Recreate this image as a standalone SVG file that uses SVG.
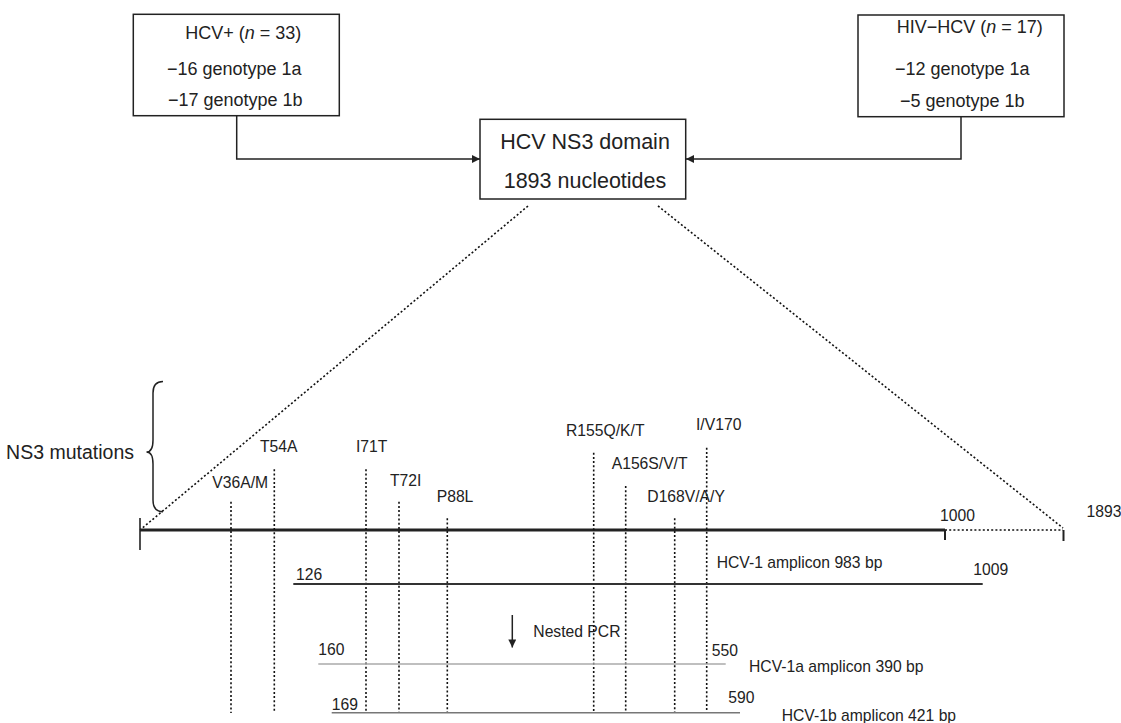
<svg xmlns="http://www.w3.org/2000/svg" width="1121" height="723" viewBox="0 0 1121 723">
<style>
text{font-family:"Liberation Sans",Arial,Helvetica,sans-serif;fill:#222}
.bx{fill:#fff;stroke:#222;stroke-width:1.5}
.bt{font-size:18px}
.ct{font-size:21.5px}
.lb{font-size:15.7px}
.dot{stroke:#111;stroke-width:1.6;stroke-dasharray:2 2.2;fill:none}
.conn{stroke:#222;stroke-width:1.5;fill:none}
</style>
<defs>
<marker id="ah" viewBox="0 0 10 10" refX="10" refY="5" markerWidth="11" markerHeight="8" markerUnits="userSpaceOnUse" orient="auto">
<path d="M0,0 L10,5 L0,10 Z" fill="#222"/>
</marker>
</defs>
<rect width="1121" height="723" fill="#fff"/>

<g id="connectors">
<path class="conn" d="M236.7,115.7 V159 H480" marker-end="url(#ah)"/>
<path class="conn" d="M961,116.7 V159 H686" marker-end="url(#ah)"/>
<line class="dot" x1="528" y1="206" x2="140" y2="530"/>
<line class="dot" x1="658" y1="206" x2="1063" y2="528"/>
<line class="conn" x1="512.3" y1="615" x2="512.3" y2="647.5" marker-end="url(#ah)"/>
</g>

<g id="hcv-box">
<rect class="bx" x="133.3" y="14.3" width="206" height="101.4"/>
<text class="bt" x="185.3" y="38.5">HCV+ (<tspan font-style="italic">n</tspan> = 33)</text>
<text class="bt" x="167" y="75">−16 genotype 1a</text>
<text class="bt" x="168" y="105.5">−17 genotype 1b</text>
</g>

<g id="hivhcv-box">
<rect class="bx" x="858" y="15" width="206" height="101.7"/>
<text class="bt" x="896.7" y="33">HIV−HCV (<tspan font-style="italic">n</tspan> = 17)</text>
<text class="bt" x="895" y="74.5">−12 genotype 1a</text>
<text class="bt" x="900" y="106.5">−5 genotype 1b</text>
</g>

<g id="ns3-box">
<rect class="bx" x="480" y="119.3" width="205.7" height="79.7"/>
<text class="ct" x="585" y="149.4" text-anchor="middle">HCV NS3 domain</text>
<text class="ct" x="585" y="187.5" text-anchor="middle">1893 nucleotides</text>
</g>

<g id="axis">
<line x1="140" y1="530" x2="945" y2="530" stroke="#222" stroke-width="3"/>
<line class="dot" x1="945" y1="530" x2="1063" y2="530"/>
<line x1="140" y1="518" x2="140" y2="550" stroke="#222" stroke-width="1.6"/>
<line x1="945" y1="530" x2="945" y2="540" stroke="#222" stroke-width="2"/>
<line x1="1063.5" y1="530" x2="1063.5" y2="541" stroke="#222" stroke-width="2"/>
<text class="lb" x="940" y="520.5">1000</text>
<text class="lb" x="1086.5" y="517">1893</text>
</g>

<g id="ns3-mutations">
<path class="conn" stroke-width="1.3" d="M163,381.5 Q153,381.5 153,393 L153,440 Q153,452 146.5,452 Q153,452 153,464 L153,500 Q153,511.7 163,511.7"/>
<text x="134" y="458.5" font-size="19.5" text-anchor="end">NS3 mutations</text>
</g>

<g id="mutation-lines">
<line class="dot" x1="231" y1="501.7" x2="231" y2="713"/>
<line class="dot" x1="274.3" y1="469.3" x2="274.3" y2="713"/>
<line class="dot" x1="366" y1="469.3" x2="366" y2="713"/>
<line class="dot" x1="399" y1="501.7" x2="399" y2="713"/>
<line class="dot" x1="447.3" y1="518.3" x2="447.3" y2="713"/>
<line class="dot" x1="593.7" y1="452.7" x2="593.7" y2="713"/>
<line class="dot" x1="625.7" y1="486" x2="625.7" y2="713"/>
<line class="dot" x1="674.7" y1="518.3" x2="674.7" y2="713"/>
<line class="dot" x1="706.7" y1="447.7" x2="706.7" y2="713"/>
</g>

<g id="mutation-labels">
<text class="lb" x="212.3" y="488">V36A/M</text>
<text class="lb" x="260" y="452">T54A</text>
<text class="lb" x="356" y="452">I71T</text>
<text class="lb" x="390" y="485.5">T72I</text>
<text class="lb" x="436.7" y="502">P88L</text>
<text class="lb" x="566" y="436">R155Q/K/T</text>
<text class="lb" x="611.7" y="469">A156S/V/T</text>
<text class="lb" x="647.3" y="501.5">D168V/A/Y</text>
<text class="lb" x="696" y="430">I/V170</text>
</g>

<g id="hcv1-amplicon">
<line x1="293.3" y1="584" x2="982.7" y2="584" stroke="#333" stroke-width="1.8"/>
<text class="lb" x="296" y="579.5">126</text>
<text class="lb" x="973.3" y="574.5">1009</text>
<text class="lb" x="716.7" y="568">HCV-1 amplicon 983 bp</text>
</g>

<g id="nested-pcr">
<text class="lb" x="533.3" y="636.5">Nested PCR</text>
</g>

<g id="hcv1a-amplicon">
<line x1="318.3" y1="664" x2="725.7" y2="664" stroke="#aaa" stroke-width="1.6"/>
<text class="lb" x="318.3" y="654.5">160</text>
<text class="lb" x="711.7" y="655.5">550</text>
<text class="lb" x="749" y="671.5">HCV-1a amplicon 390 bp</text>
</g>

<g id="hcv1b-amplicon">
<line x1="331.7" y1="712.7" x2="740" y2="712.7" stroke="#777" stroke-width="1.6"/>
<text class="lb" x="331.7" y="709.5">169</text>
<text class="lb" x="728.3" y="703">590</text>
<text class="lb" x="781.7" y="720.5">HCV-1b amplicon 421 bp</text>
</g>
</svg>
